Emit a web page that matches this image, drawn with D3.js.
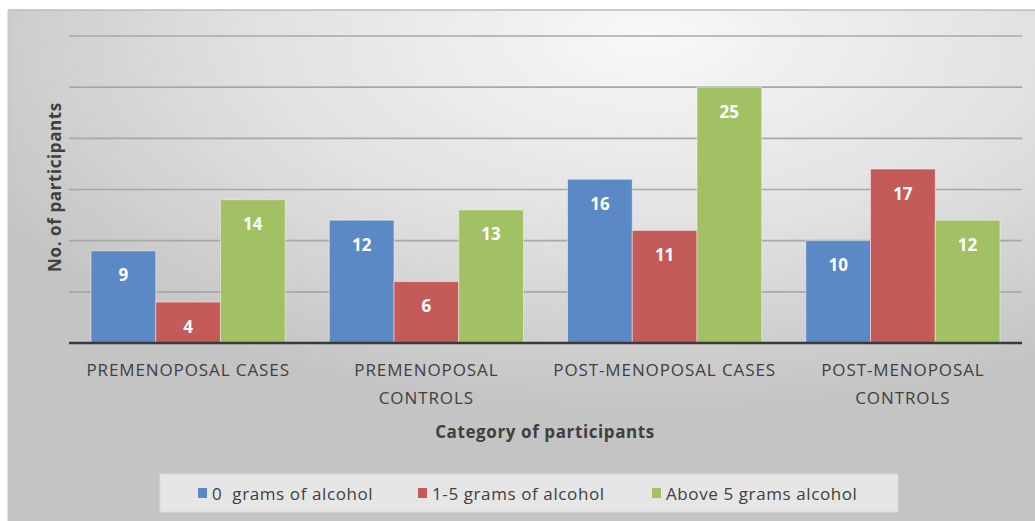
<html>
    <head>
        <title>Alcohol intake by participant category</title>
        <style>
            body { margin: 0; background-color: white; }
            svg text { font-family: "Open Sans", sans-serif; }
        </style>
    </head>
    <body>
        <svg id="chart" width="1035" height="521"></svg>
        <script src="https://d3js.org/d3.v7.min.js"></script>
        <script>
            const categories = [["PREMENOPOSAL CASES"], ["PREMENOPOSAL", "CONTROLS"], ["POST-MENOPOSAL CASES"], ["POST-MENOPOSAL", "CONTROLS"]];
            const seriesNames = ["0  grams of alcohol", "1-5 grams of alcohol", "Above 5 grams alcohol"];
            const zeroGrams = [9, 12, 16, 10];
            const oneToFive = [4, 6, 11, 17];
            const aboveFive = [14, 13, 25, 12];
            const yTicks = [0, 5, 10, 15, 20, 25, 30];
            const colors = ["#5a89c5", "#c45b58", "#a2c164"];

            const svg = d3.select("#chart");
            const seriesValues = [zeroGrams, oneToFive, aboveFive];
            const catKeys = categories.map(c => c.join(" "));

            // background panel with soft gradient
            const defs = svg.append("defs");
            const grad = defs.append("radialGradient").attr("id", "bg")
                .attr("cx", "62%").attr("cy", "5%").attr("r", "72%");
            grad.append("stop").attr("offset", 0).attr("stop-color", "#f8f8f8");
            grad.append("stop").attr("offset", 0.55).attr("stop-color", "#e0e0e0");
            grad.append("stop").attr("offset", 1).attr("stop-color", "#c4c4c4");

            svg.append("rect").attr("x", 8).attr("y", 10).attr("width", 1035).attr("height", 520)
                .attr("fill", "url(#bg)");
            svg.append("line").attr("x1", 8).attr("x2", 1035).attr("y1", 10).attr("y2", 10)
                .attr("stroke", "#bdbdbd").attr("stroke-width", 1.5);
            svg.append("line").attr("x1", 8).attr("x2", 8).attr("y1", 10).attr("y2", 521)
                .attr("stroke", "#c4c4c4").attr("stroke-width", 1);

            const x0 = d3.scaleBand().domain(catKeys).range([69, 1022]).paddingInner(0.185).paddingOuter(0.0925);
            const x1 = d3.scaleBand().domain(d3.range(seriesNames.length)).range([0, x0.bandwidth()]);
            const y = d3.scaleLinear().domain([0, 30]).range([343, 36]);

            // gridlines
            svg.append("g").selectAll("line").data(yTicks.slice(1)).join("line")
                .attr("x1", 69).attr("x2", 1022)
                .attr("y1", d => y(d)).attr("y2", d => y(d))
                .attr("stroke", "#a8a8a8").attr("stroke-width", 1.6);

            // bars
            const groups = svg.append("g").selectAll("g").data(catKeys).join("g")
                .attr("transform", d => "translate(" + x0(d) + ",0)");
            groups.each(function(cat, ci) {
                const g = d3.select(this);
                seriesValues.forEach((vals, si) => {
                    g.append("rect")
                        .attr("x", x1(si)).attr("width", x1.bandwidth())
                        .attr("y", y(vals[ci])).attr("height", y(0) - y(vals[ci]))
                        .attr("fill", colors[si])
                        .attr("stroke", "rgba(255,255,255,0.45)").attr("stroke-width", 1);
                    g.append("text")
                        .attr("x", x1(si) + x1.bandwidth() / 2)
                        .attr("y", y(vals[ci]) + 24)
                        .attr("text-anchor", "middle").attr("dominant-baseline", "central")
                        .attr("fill", "white").attr("font-weight", "bold").attr("font-size", 17)
                        .text(vals[ci]);
                });
            });

            // baseline
            svg.append("line").attr("x1", 69).attr("x2", 1022).attr("y1", y(0)).attr("y2", y(0))
                .attr("stroke", "#3a3a3a").attr("stroke-width", 2.5);

            // category labels
            const catLabels = svg.append("g").selectAll("text").data(categories).join("text")
                .attr("text-anchor", "middle").attr("fill", "#404040").attr("font-size", 17)
                .attr("letter-spacing", 0.9)
                .attr("transform", (d, i) => "translate(" + (x0(catKeys[i]) + x0.bandwidth() / 2) + ",376)");
            catLabels.selectAll("tspan").data(d => d).join("tspan")
                .attr("x", 0).attr("dy", (d, i) => i === 0 ? 0 : 28)
                .text(d => d);

            // axis titles
            svg.append("text").attr("x", 545).attr("y", 438).attr("text-anchor", "middle")
                .attr("fill", "#404040").attr("font-weight", "bold").attr("font-size", 17)
                .attr("letter-spacing", 0.6)
                .text("Category of participants");
            svg.append("text").attr("transform", "translate(54,187) rotate(-90)")
                .attr("text-anchor", "middle").attr("dominant-baseline", "central")
                .attr("fill", "#404040").attr("font-weight", "bold").attr("font-size", 17)
                .attr("letter-spacing", 0.6)
                .text("No. of participants");

            // legend
            const legend = svg.append("g");
            legend.append("rect").attr("x", 160).attr("y", 474).attr("width", 738).attr("height", 38)
                .attr("fill", "#e6e6e6").attr("stroke", "#dadada");
            const legendX = [198, 418, 652];
            const items = legend.selectAll("g").data(seriesNames).join("g")
                .attr("transform", (d, i) => "translate(" + legendX[i] + ",493)");
            items.append("rect").attr("x", 0).attr("y", -5).attr("width", 9).attr("height", 10)
                .attr("fill", (d, i) => colors[i]);
            items.append("text").attr("x", 14).attr("dominant-baseline", "central")
                .attr("fill", "#404040").attr("font-size", 17).attr("letter-spacing", 0.6)
                .style("white-space", "pre")
                .text(d => d);
        </script>
    </body>
</html>
